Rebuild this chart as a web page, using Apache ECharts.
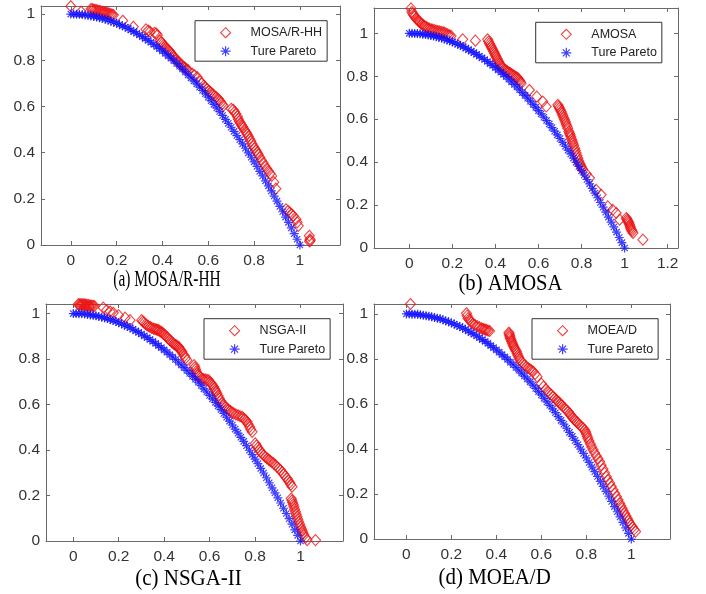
<!DOCTYPE html>
<html><head><meta charset="utf-8">
<script src="https://cdn.jsdelivr.net/npm/echarts@6/dist/echarts.min.js"></script>
<style>html,body{margin:0;padding:0;background:#fff}#c{width:706px;height:594px}</style>
</head><body><div id="c"></div>
<script>
// ---------------- data ----------------
const captions = ['(a) MOSA/R-HH', '(b) AMOSA', '(c) NSGA-II', '(d) MOEA/D'];
const algoNames = ['MOSA/R-HH', 'AMOSA', 'NSGA-II', 'MOEA/D'];
const trueName = 'Ture Pareto';

const trueX = [0,0.0125,0.025,0.0375,0.05,0.0625,0.075,0.0875,0.1,0.1125,0.125,0.1375,0.15,0.1625,0.175,0.1875,0.2,0.2125,0.225,0.2375,0.25,0.2625,0.275,0.2875,0.3,0.3125,0.325,0.3375,0.35,0.3625,0.375,0.3875,0.4,0.4125,0.425,0.4375,0.45,0.4625,0.475,0.4875,0.5,0.5125,0.525,0.5375,0.55,0.5625,0.575,0.5875,0.6,0.6125,0.625,0.6375,0.65,0.6625,0.675,0.6875,0.7,0.7125,0.725,0.7375,0.75,0.7625,0.775,0.7875,0.8,0.8125,0.825,0.8375,0.85,0.8625,0.875,0.8875,0.9,0.9125,0.925,0.9375,0.95,0.9625,0.975,0.9875,1];
const trueY = [1,1.000,0.999,0.999,0.998,0.996,0.994,0.992,0.990,0.987,0.984,0.981,0.978,0.974,0.969,0.965,0.960,0.955,0.949,0.944,0.938,0.931,0.924,0.917,0.910,0.902,0.894,0.886,0.878,0.869,0.859,0.850,0.840,0.830,0.819,0.809,0.798,0.786,0.774,0.762,0.750,0.737,0.724,0.711,0.698,0.684,0.669,0.655,0.640,0.625,0.609,0.594,0.578,0.561,0.544,0.527,0.510,0.492,0.474,0.456,0.438,0.419,0.399,0.380,0.360,0.340,0.319,0.299,0.278,0.256,0.234,0.212,0.190,0.167,0.144,0.121,0.098,0.074,0.049,0.025,0];

const mosaPts = [[0.000,1.034],[0.045,1.010],[0.088,1.022],[0.100,1.020],[0.112,1.017],[0.125,1.014],[0.138,1.010],[0.150,1.007],[0.162,1.004],[0.175,1.000],[0.186,0.996],[0.227,0.971],[0.273,0.945],[0.328,0.934],[0.338,0.929],[0.346,0.924],[0.365,0.919],[0.372,0.917],[0.378,0.909],[0.390,0.885],[0.400,0.872],[0.410,0.860],[0.420,0.850],[0.430,0.840],[0.440,0.827],[0.450,0.814],[0.460,0.803],[0.470,0.793],[0.480,0.783],[0.490,0.773],[0.500,0.766],[0.513,0.756],[0.530,0.742],[0.552,0.727],[0.564,0.708],[0.580,0.690],[0.596,0.675],[0.610,0.662],[0.622,0.651],[0.635,0.640],[0.644,0.632],[0.655,0.617],[0.666,0.603],[0.700,0.590],[0.709,0.586],[0.720,0.568],[0.727,0.557],[0.735,0.536],[0.745,0.520],[0.753,0.507],[0.765,0.488],[0.775,0.471],[0.786,0.450],[0.797,0.428],[0.808,0.410],[0.818,0.392],[0.832,0.367],[0.847,0.342],[0.862,0.320],[0.877,0.299],[0.886,0.272],[0.895,0.244],[0.939,0.155],[0.948,0.148],[0.956,0.141],[0.964,0.133],[0.971,0.126],[0.983,0.112],[0.988,0.098],[0.993,0.083],[1.041,0.040],[1.044,0.025],[1.045,0.019],[1.042,0.015],
  [0.094,1.021],[0.106,1.018],[0.118,1.015],[0.131,1.012],[0.144,1.009],[0.156,1.005],[0.168,1.002],[0.180,0.998],[0.395,0.878],[0.405,0.866],[0.415,0.855],[0.425,0.845],[0.435,0.834],[0.445,0.820],[0.455,0.808],[0.465,0.798],[0.475,0.788],[0.485,0.778],[0.495,0.770],[0.506,0.761],[0.540,0.735],[0.572,0.700],[0.588,0.682],[0.603,0.668],[0.616,0.656],[0.628,0.645],[0.650,0.625],[0.660,0.610],[0.715,0.577],[0.731,0.546],[0.740,0.528],[0.749,0.513],[0.759,0.497],[0.770,0.480],[0.780,0.460],[0.791,0.439],[0.802,0.419],[0.813,0.401],[0.825,0.380],[0.840,0.355],[0.855,0.331],[0.870,0.310]];

const amosaPts = [[0.008,1.116],[0.012,1.100],[0.020,1.085],[0.031,1.070],[0.040,1.060],[0.047,1.054],[0.058,1.044],[0.070,1.034],[0.085,1.026],[0.101,1.019],[0.116,1.015],[0.132,1.011],[0.148,1.007],[0.163,1.003],[0.178,0.995],[0.194,0.988],[0.248,0.972],[0.307,0.966],[0.364,0.972],[0.372,0.953],[0.380,0.938],[0.388,0.922],[0.396,0.906],[0.403,0.891],[0.411,0.875],[0.419,0.860],[0.427,0.848],[0.434,0.837],[0.445,0.829],[0.457,0.822],[0.469,0.814],[0.481,0.806],[0.493,0.798],[0.504,0.791],[0.512,0.779],[0.519,0.767],[0.558,0.736],[0.592,0.705],[0.620,0.682],[0.636,0.659],[0.690,0.667],[0.697,0.652],[0.705,0.636],[0.713,0.617],[0.721,0.597],[0.728,0.578],[0.736,0.558],[0.741,0.543],[0.747,0.527],[0.753,0.508],[0.760,0.488],[0.768,0.465],[0.775,0.442],[0.783,0.418],[0.791,0.395],[0.798,0.380],[0.806,0.364],[0.822,0.345],[0.837,0.326],[0.868,0.271],[0.891,0.248],[0.922,0.194],[0.945,0.178],[0.961,0.163],[0.977,0.132],[1.008,0.140],[1.014,0.128],[1.020,0.116],[1.026,0.100],[1.031,0.085],[1.039,0.070],[1.085,0.039],
  [0.693,0.660],[0.701,0.644],[0.709,0.627],[0.717,0.607],[0.725,0.588],[0.732,0.568],[0.744,0.535],[0.750,0.518],[0.757,0.498],[0.764,0.477],[0.771,0.454],[0.779,0.430],[0.787,0.406],[0.794,0.388],[0.802,0.372],[0.368,0.962],[0.376,0.946],[0.384,0.930],[0.392,0.914],[0.400,0.898],[0.407,0.883],[0.415,0.868],[0.423,0.854],[0.431,0.842],[0.440,0.833],[0.451,0.826],[0.463,0.818],[0.475,0.810],[0.487,0.802],[0.499,0.795],[0.508,0.785],[0.516,0.773],[0.016,1.092],[0.025,1.078],[0.035,1.066],[0.044,1.057],[0.052,1.049],[0.064,1.039],[0.078,1.030],[0.093,1.022],[0.108,1.017],[0.124,1.013],[0.140,1.009],[0.156,1.005],[0.170,0.999],[0.186,0.991],[1.011,0.134],[1.017,0.122],[1.023,0.108],[1.028,0.092],[1.035,0.078]];

const nsgaPts = [[0.022,1.041],[0.033,1.041],[0.044,1.041],[0.055,1.039],[0.066,1.037],[0.077,1.035],[0.088,1.034],[0.132,1.026],[0.147,1.015],[0.162,1.009],[0.176,1.003],[0.199,0.993],[0.228,0.982],[0.250,0.971],[0.301,0.971],[0.312,0.960],[0.324,0.949],[0.338,0.941],[0.353,0.934],[0.365,0.930],[0.375,0.927],[0.386,0.920],[0.397,0.912],[0.408,0.901],[0.419,0.890],[0.430,0.879],[0.441,0.868],[0.452,0.861],[0.463,0.854],[0.470,0.843],[0.478,0.832],[0.489,0.813],[0.500,0.795],[0.532,0.773],[0.538,0.755],[0.544,0.736],[0.555,0.725],[0.566,0.714],[0.581,0.711],[0.596,0.707],[0.607,0.692],[0.618,0.678],[0.625,0.663],[0.632,0.649],[0.643,0.627],[0.654,0.605],[0.665,0.594],[0.676,0.583],[0.691,0.572],[0.706,0.561],[0.725,0.553],[0.743,0.546],[0.754,0.535],[0.765,0.524],[0.776,0.502],[0.787,0.480],[0.801,0.429],[0.812,0.410],[0.824,0.392],[0.838,0.377],[0.853,0.363],[0.867,0.352],[0.882,0.341],[0.897,0.326],[0.912,0.312],[0.926,0.293],[0.941,0.275],[0.952,0.257],[0.963,0.239],[0.959,0.187],[0.965,0.169],[0.971,0.151],[0.978,0.129],[0.985,0.107],[0.992,0.085],[1.000,0.063],[1.008,0.044],[1.015,0.026],[1.022,0.015],[1.029,0.004],[1.066,0.004],
  [0.027,1.041],[0.038,1.041],[0.049,1.040],[0.060,1.038],[0.071,1.036],[0.082,1.035],[0.093,1.033],[0.030,1.032],[0.050,1.030],[0.070,1.028],[0.306,0.965],[0.318,0.954],[0.331,0.945],[0.345,0.937],[0.359,0.932],[0.370,0.928],[0.380,0.924],[0.391,0.916],[0.402,0.906],[0.413,0.895],[0.424,0.884],[0.435,0.873],[0.446,0.864],[0.457,0.857],[0.466,0.848],[0.474,0.837],[0.483,0.822],[0.494,0.804],[0.535,0.764],[0.541,0.745],[0.549,0.730],[0.560,0.719],[0.573,0.712],[0.588,0.709],[0.601,0.699],[0.612,0.685],[0.621,0.670],[0.628,0.656],[0.962,0.178],[0.968,0.160],[0.974,0.140],[0.981,0.118],[0.988,0.096],[0.996,0.074],[1.004,0.053],[1.011,0.035],[0.638,0.638],[0.649,0.616],[0.660,0.600],[0.670,0.588],[0.683,0.578],[0.698,0.566],[0.715,0.557],[0.734,0.549],[0.748,0.541],[0.759,0.530],[0.770,0.513],[0.781,0.491],[0.806,0.420],[0.818,0.401],[0.831,0.384],[0.845,0.370],[0.860,0.358],[0.874,0.346],[0.889,0.334],[0.904,0.319],[0.919,0.303],[0.933,0.284],[0.946,0.266],[0.957,0.248]];

const moeadPts = [[0.018,1.044],[0.267,1.003],[0.274,0.981],[0.285,0.968],[0.296,0.956],[0.315,0.946],[0.333,0.936],[0.345,0.932],[0.356,0.929],[0.370,0.924],[0.456,0.917],[0.459,0.905],[0.462,0.892],[0.468,0.877],[0.474,0.862],[0.481,0.847],[0.489,0.833],[0.496,0.815],[0.504,0.796],[0.518,0.781],[0.533,0.766],[0.548,0.755],[0.563,0.744],[0.581,0.721],[0.600,0.690],[0.620,0.665],[0.637,0.647],[0.652,0.632],[0.667,0.618],[0.678,0.607],[0.689,0.596],[0.704,0.581],[0.719,0.566],[0.730,0.551],[0.741,0.536],[0.752,0.525],[0.763,0.514],[0.778,0.499],[0.793,0.484],[0.800,0.466],[0.807,0.447],[0.818,0.422],[0.830,0.396],[0.844,0.370],[0.859,0.344],[0.874,0.311],[0.889,0.277],[0.904,0.248],[0.919,0.218],[0.934,0.189],[0.948,0.159],[0.959,0.137],[0.970,0.114],[0.982,0.092],[0.993,0.070],[1.006,0.052],[1.019,0.033],
  [0.457,0.911],[0.460,0.898],[0.465,0.885],[0.471,0.870],[0.477,0.855],[0.485,0.840],[0.492,0.824],[0.500,0.806],[0.511,0.788],[0.525,0.773],[0.540,0.760],[0.555,0.750],[0.572,0.733],[0.610,0.677],[0.628,0.656],[0.645,0.640],[0.660,0.625],[0.673,0.612],[0.684,0.601],[0.696,0.589],[0.711,0.573],[0.725,0.558],[0.736,0.543],[0.747,0.530],[0.758,0.520],[0.770,0.507],[0.786,0.492],[0.797,0.475],[0.804,0.456],[0.812,0.435],[0.824,0.409],[0.837,0.383],[0.852,0.357],[0.866,0.328],[0.881,0.294],[0.896,0.262],[0.911,0.233],[0.926,0.203],[0.941,0.174],[0.953,0.148],[0.964,0.125],[0.976,0.103],[0.987,0.081],[0.999,0.061],[1.012,0.042],[0.270,0.992],[0.279,0.975],[0.290,0.962],[0.305,0.951],[0.324,0.941],[0.339,0.934],[0.351,0.930],[0.363,0.926]];

const xRanges = [[-0.13,1.175],[-0.164,1.248],[-0.12,1.187],[-0.144,1.172]];
const yRanges = [[0,1.035],[0,1.118],[0,1.042],[0,1.044]];

// ---------------- layout / style ----------------
const algoPts = [mosaPts, amosaPts, nsgaPts, moeadPts];
const grids = [
  {left:41, top:6, width:299, height:239},
  {left:374, top:8, width:304, height:240},
  {left:46, top:304, width:297, height:237},
  {left:374, top:304, width:296, height:235}
];
const legendPos = [[195,20.7],[535.7,22.3],[204,318.7],[532,318.7]];
const capPos = [[167,280],[510.5,284],[188.5,579],[494.7,578]];
const capScaleX = [0.67, 0.9, 0.91, 0.91];

const RED = '#ec1414', BLUE = '#1010ff';
const ASTER = 'path://M5,0L5,10M0,5L10,5M1.5,1.5L8.5,8.5M1.5,8.5L8.5,1.5';
const AXC = '#6a6a6a';
const fmt = v => (Math.abs(v * 5 - Math.round(v * 5)) < 1e-6) ? String(+v.toFixed(1)) : '';

const xAxis = [], yAxis = [], series = [], legend = [], graphic = [];
grids.forEach((g, i) => {
  const base = {
    type: 'value', gridIndex: i, splitLine: {show: false},
    minInterval: 0.2, maxInterval: 0.2,
    axisLine: {show: true, onZero: false, lineStyle: {color: AXC, width: 1}},
    axisTick: {show: true, inside: true, length: 4, lineStyle: {color: AXC}}
  };
  const lab = {show: true, formatter: fmt, color: '#333', fontSize: 15.5, fontFamily: 'Liberation Sans, Arial', margin: 8};
  xAxis.push(Object.assign({}, base, {position: 'bottom', min: xRanges[i][0], max: xRanges[i][1], axisLabel: Object.assign({}, lab, {margin: 8})}));
  xAxis.push(Object.assign({}, base, {position: 'top', min: xRanges[i][0], max: xRanges[i][1], axisLabel: {show: false}}));
  yAxis.push(Object.assign({}, base, {position: 'left', min: yRanges[i][0], max: yRanges[i][1], axisLabel: Object.assign({}, lab, {margin: 6})}));
  yAxis.push(Object.assign({}, base, {position: 'right', min: yRanges[i][0], max: yRanges[i][1], axisLabel: {show: false}}));

  series.push({
    type: 'scatter', name: algoNames[i], xAxisIndex: 2 * i, yAxisIndex: 2 * i,
    data: algoPts[i], symbol: 'diamond', symbolSize: [10, 11], silent: true,
    itemStyle: {color: 'transparent', borderColor: RED, borderWidth: 1.1}, z: 2
  });
  series.push({
    type: 'scatter', name: trueName, xAxisIndex: 2 * i, yAxisIndex: 2 * i,
    data: trueX.map((x, k) => [x, trueY[k]]), symbol: ASTER, symbolSize: 9, silent: true,
    itemStyle: {color: 'transparent', borderColor: BLUE, borderWidth: 1.2}, z: 3
  });

  legend.push({
    orient: 'vertical', left: legendPos[i][0], top: legendPos[i][1],
    padding: [5, 5, 3, 25], itemGap: 4.5, itemWidth: 10, itemHeight: 10,
    backgroundColor: '#fff', borderColor: '#333', borderWidth: 1, borderRadius: 0,
    selectedMode: false,
    textStyle: {fontSize: 12.5, lineHeight: 14, color: '#222', fontFamily: 'Liberation Sans, Arial', padding: [0, 0, 0, 15]},
    data: [
      {name: algoNames[i], icon: 'diamond', itemStyle: {color: 'transparent', borderColor: RED, borderWidth: 1.1}},
      {name: trueName, icon: ASTER, itemStyle: {color: 'transparent', borderColor: BLUE, borderWidth: 1.2}}
    ]
  });

  graphic.push({
    type: 'text', x: capPos[i][0], y: capPos[i][1], scaleX: capScaleX[i], silent: true,
    style: {text: captions[i], fontSize: 23, fontFamily: 'Liberation Serif, Times New Roman, serif', fill: '#000', align: 'center', verticalAlign: 'middle'}
  });
});

const chart = echarts.init(document.getElementById('c'), null, {renderer: 'canvas'});
chart.setOption({
  animation: false, backgroundColor: '#fff',
  grid: grids, xAxis, yAxis, series, legend, graphic
});
</script></body></html>
